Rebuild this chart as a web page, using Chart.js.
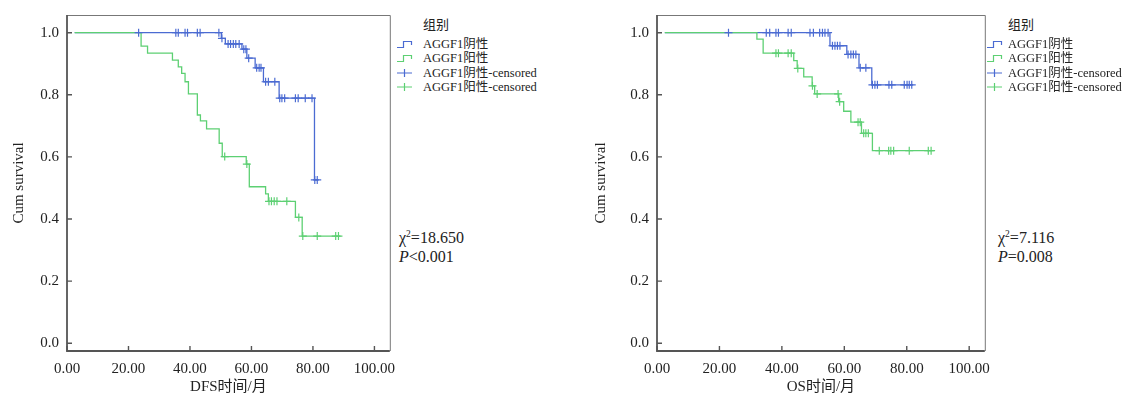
<!DOCTYPE html>
<html>
<head>
<meta charset="utf-8">
<script src="https://cdn.jsdelivr.net/npm/chart.js@4.4.0/dist/chart.umd.min.js"></script>
<style>
  body {
    margin: 0;
    width: 1125px;
    height: 397px;
    background: #fff;
    position: relative;
    overflow: hidden;
    font-family: "Liberation Serif", "Noto Sans CJK SC", serif;
    color: #222;
  }
  canvas { position: absolute; top: 0; }
  .legend-title { position: absolute; font-size: 13px; line-height: 14px; }
  .legend-item { position: absolute; font-size: 12.5px; line-height: 14px; height: 14px; white-space: nowrap; }
  .legend-item svg { position: absolute; left: 0; top: 2px; }
  .legend-item span { position: absolute; top: 0; }
  .stat { position: absolute; font-size: 16px; line-height: 19px; white-space: nowrap; }
  .stat sup { font-size: 9.5px; vertical-align: 6px; line-height: 0; }
</style>
</head>
<body>
<canvas id="dfsChart" width="395" height="397" style="left:0"></canvas>
<canvas id="osChart" width="400" height="397" style="left:590px"></canvas>

<script>
// ---------- data ----------
const groupNames = ["AGGF1阴性", "AGGF1阳性"];
const legendLabels = ["AGGF1阴性", "AGGF1阳性", "AGGF1阴性-censored", "AGGF1阳性-censored"];
const legendTitle = "组别";
const xTickValues = [0, 20, 40, 60, 80, 100];
const yTickValues = [0, 0.2, 0.4, 0.6, 0.8, 1.0];

// DFS
const dfsBlueTime = [2.5, 50.2, 51.5, 56.9, 58.5, 61.2, 63.9, 69.0, 80.5, 81.7];
const dfsBlueSurv = [1, 0.982, 0.964, 0.947, 0.918, 0.887, 0.842, 0.789, 0.526, 0.526];
const dfsBlueCensor = [23.3, 35.4, 36.2, 38.4, 39.2, 42.4, 43.3, 49.4, 50.4, 52.4, 53.2, 54.1,
  54.9, 56.0, 57.5, 58.2, 59.1, 61.7, 62.5, 63.1, 64.6, 65.5, 67.6, 69.2, 69.9, 70.8,
  74.3, 75.2, 77.5, 79.7, 80.6, 81.4];
const dfsGreenTime = [2.5, 24.1, 26.2, 34.3, 36.2, 37.3, 38.4, 39.5, 42.4, 43.4, 45.4, 49.5,
  50.5, 58.3, 59.3, 64.6, 65.5, 74.3, 76.5, 89.0];
const dfsGreenSurv = [1, 0.957, 0.934, 0.912, 0.890, 0.869, 0.842, 0.803, 0.735, 0.716, 0.690,
  0.644, 0.601, 0.577, 0.504, 0.481, 0.457, 0.405, 0.345, 0.345];
const dfsGreenCensor = [51.3, 58.5, 65.7, 66.5, 67.4, 68.3, 71.5, 75.4, 76.7, 81.4, 87.4, 88.3];

// OS
const osBlueTime = [2.5, 55.4, 60.8, 64.7, 68.8, 81.9];
const osBlueSurv = [1, 0.958, 0.930, 0.887, 0.832, 0.832];
const osBlueCensor = [22.9, 35.0, 36.1, 38.1, 38.9, 42.0, 43.0, 49.0, 50.1, 52.1, 53.0, 53.8,
  54.8, 56.2, 57.0, 57.8, 58.6, 61.2, 62.1, 62.9, 63.7, 65.1, 66.9, 69.0, 69.8, 70.6,
  74.3, 75.2, 79.2, 80.1, 80.8, 81.6];
const osGreenTime = [2.5, 32.0, 34.0, 43.8, 44.9, 47.0, 49.7, 50.5, 58.2, 59.8, 62.1, 65.5, 69.0, 88.8];
const osGreenSurv = [1, 0.979, 0.934, 0.910, 0.885, 0.858, 0.829, 0.803, 0.778, 0.747, 0.712,
  0.676, 0.620, 0.620];
const osGreenCensor = [38.1, 38.9, 42.0, 43.0, 45.1, 49.8, 51.3, 58.0, 58.5, 64.4, 65.1, 66.2,
  66.9, 67.7, 71.2, 74.2, 74.9, 75.8, 80.8, 86.9, 87.8];

const blue = "#4b6bd2";
const green = "#5dd073";
const axisColor = "#555";
const fontFamily = '"Liberation Serif", "Noto Sans CJK SC", serif';

// survival level of a step curve at time t
function survAt(times, surv, t) {
  let s = surv[0];
  for (let i = 0; i < times.length; i++) {
    if (times[i] <= t) s = surv[i];
  }
  return s;
}

function curvePoints(times, surv) {
  return times.map((t, i) => ({ x: t, y: surv[i] }));
}

function censorPoints(censor, times, surv) {
  return censor.map((t) => ({ x: t, y: survAt(times, surv, t) }));
}

// box round the plot area plus inward ticks
const framePlugin = {
  id: "frame",
  afterDatasetsDraw(chart) {
    const { ctx, chartArea, scales } = chart;
    const { left, right, top, bottom } = chartArea;
    ctx.save();
    ctx.strokeStyle = "#777";
    ctx.lineWidth = 1;
    ctx.beginPath();
    ctx.moveTo(left, top + 0.5);
    ctx.lineTo(right + 0.5, top + 0.5);
    ctx.lineTo(right + 0.5, bottom);
    ctx.stroke();

    ctx.strokeStyle = axisColor;
    ctx.lineWidth = 1.8;
    ctx.beginPath();
    ctx.moveTo(left, top);
    ctx.lineTo(left, bottom);
    ctx.lineTo(right, bottom);
    ctx.stroke();

    ctx.lineWidth = 1.4;
    ctx.beginPath();
    scales.x.ticks.forEach((tick) => {
      const x = scales.x.getPixelForValue(tick.value);
      ctx.moveTo(x, bottom);
      ctx.lineTo(x, bottom - 5);
    });
    scales.y.ticks.forEach((tick) => {
      const y = scales.y.getPixelForValue(tick.value);
      ctx.moveTo(left, y);
      ctx.lineTo(left + 5, y);
    });
    ctx.stroke();
    ctx.restore();
  },
};

function makeChart(canvasId, curves, xTitle, yTitlePad, rightPad) {
  const datasets = [
    {
      label: groupNames[1],
      data: curvePoints(curves.greenTime, curves.greenSurv),
      borderColor: green,
      borderWidth: 1.3,
      stepped: "before",
      pointRadius: 0,
      fill: false,
      order: 1,
    },
    {
      label: groupNames[0],
      data: curvePoints(curves.blueTime, curves.blueSurv),
      borderColor: blue,
      borderWidth: 1.3,
      stepped: "before",
      pointRadius: 0,
      fill: false,
      order: 2,
    },
    {
      label: groupNames[1] + "-censored",
      data: censorPoints(curves.greenCensor, curves.greenTime, curves.greenSurv),
      showLine: false,
      pointStyle: "cross",
      pointRadius: 4,
      borderColor: green,
      borderWidth: 1.2,
      order: 0,
    },
    {
      label: groupNames[0] + "-censored",
      data: censorPoints(curves.blueCensor, curves.blueTime, curves.blueSurv),
      showLine: false,
      pointStyle: "cross",
      pointRadius: 4,
      borderColor: blue,
      borderWidth: 1.2,
      order: 0,
    },
  ];

  return new Chart(document.getElementById(canvasId), {
    type: "line",
    data: { datasets },
    plugins: [framePlugin],
    options: {
      responsive: false,
      animation: false,
      layout: { padding: { top: 15, right: rightPad, left: 0, bottom: 0 } },
      plugins: { legend: { display: false }, tooltip: { enabled: false } },
      scales: {
        x: {
          type: "linear",
          min: 0,
          max: 105,
          afterBuildTicks: (scale) => {
            scale.ticks = xTickValues.map((v) => ({ value: v }));
          },
          afterFit: (scale) => {
            scale.height = 46;
            scale.paddingLeft = 0;
            scale.paddingRight = 0;
          },
          grid: { display: false, drawTicks: false },
          border: { display: false },
          ticks: {
            color: "#222",
            padding: 9,
            maxRotation: 0,
            font: { family: fontFamily, size: 15 },
            callback: (v) => Number(v).toFixed(2),
          },
          title: {
            display: true,
            text: xTitle,
            color: "#222",
            padding: { top: 0, bottom: 1 },
            font: { family: fontFamily, size: 15 },
          },
        },
        y: {
          type: "linear",
          min: -0.025,
          max: 1.057,
          afterBuildTicks: (scale) => {
            scale.ticks = yTickValues.map((v) => ({ value: v }));
          },
          afterFit: (scale) => {
            scale.width = 67;
            scale.paddingTop = 0;
            scale.paddingBottom = 0;
          },
          grid: { display: false, drawTicks: false },
          border: { display: false },
          ticks: {
            color: "#222",
            padding: 8,
            font: { family: fontFamily, size: 15 },
            callback: (v) => Number(v).toFixed(1),
          },
          title: {
            display: true,
            text: "Cum survival",
            color: "#222",
            padding: { top: yTitlePad, bottom: 0 },
            font: { family: fontFamily, size: 15 },
          },
        },
      },
    },
  });
}

// legend glyphs: step line for curves, plus sign for censored
function legendGlyph(kind, color) {
  if (kind === "step") {
    return `<svg width="16" height="10"><path d="M0 8.5 H6.5 V2.5 H14.5 V6" stroke="${color}" stroke-width="1.2" fill="none"/></svg>`;
  }
  return `<svg width="16" height="10"><path d="M0 5 H15 M7.5 1 V9" stroke="${color}" stroke-width="1.2" fill="none"/></svg>`;
}

function addLegend(left, top, textOffset) {
  const title = document.createElement("div");
  title.className = "legend-title";
  title.style.left = left + textOffset + "px";
  title.style.top = top + "px";
  title.textContent = legendTitle;
  document.body.appendChild(title);

  const kinds = ["step", "step", "cross", "cross"];
  const colors = [blue, green, blue, green];
  legendLabels.forEach((label, i) => {
    const item = document.createElement("div");
    item.className = "legend-item";
    item.style.left = left + "px";
    item.style.top = top + 19 + i * 14.3 + "px";
    item.innerHTML =
      legendGlyph(kinds[i], colors[i]) + `<span style="left:${textOffset}px">${label}</span>`;
    document.body.appendChild(item);
  });
}

function addStat(left, top, chi, p) {
  const el = document.createElement("div");
  el.className = "stat";
  el.style.left = left + "px";
  el.style.top = top + "px";
  el.innerHTML = `χ<sup>2</sup>=${chi}<br><i>P</i>${p}`;
  document.body.appendChild(el);
}

makeChart(
  "dfsChart",
  {
    blueTime: dfsBlueTime, blueSurv: dfsBlueSurv, blueCensor: dfsBlueCensor,
    greenTime: dfsGreenTime, greenSurv: dfsGreenSurv, greenCensor: dfsGreenCensor,
  },
  "DFS时间/月",
  10,
  4
);
makeChart(
  "osChart",
  {
    blueTime: osBlueTime, blueSurv: osBlueSurv, blueCensor: osBlueCensor,
    greenTime: osGreenTime, greenSurv: osGreenSurv, greenCensor: osGreenCensor,
  },
  "OS时间/月",
  2,
  5
);

addLegend(397, 18, 26);
addLegend(987, 18, 21);
addStat(399, 228, "18.650", "&lt;0.001");
addStat(998, 228, "7.116", "=0.008");
</script>
</body>
</html>
